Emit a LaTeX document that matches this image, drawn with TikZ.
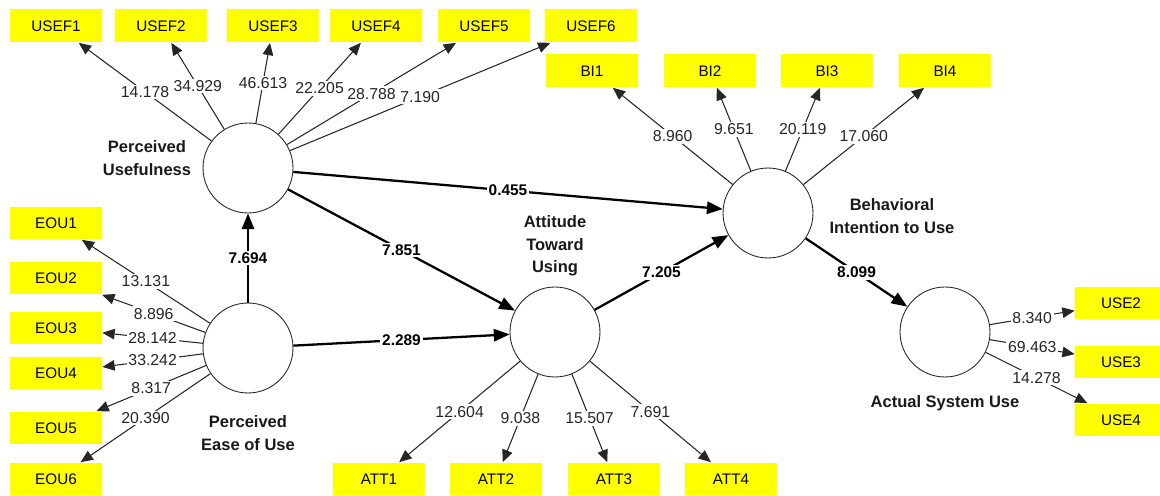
\documentclass[tikz,border=0pt]{standalone}
\usepackage{fontspec}
\setmainfont{Liberation Sans}
\usetikzlibrary{arrows.meta}
\definecolor{boxyellow}{HTML}{FFFF00}
\begin{document}
\begin{tikzpicture}[x=0.02cm,y=-0.02cm,
  ind/.style={fill=boxyellow, minimum width=1.84cm, minimum height=0.66cm, inner sep=0pt, font=\fontsize{8.7}{10}\selectfont},
  lat/.style={circle, draw=black!85, line width=0.5pt, minimum size=1.8cm, inner sep=0pt},
  latlbl/.style={font=\bfseries\fontsize{9.4}{12.8}\selectfont, align=center, text=black!90},
  outer/.style={-{Triangle[length=7pt,width=6pt]}, line width=0.6pt, draw=black!85},
  innerarr/.style={-{Triangle[length=9pt,width=7pt]}, line width=1.3pt, draw=black},
  ol/.style={fill=white, inner sep=1pt, font=\fontsize{9}{10}\selectfont, text=black!85},
  il/.style={fill=white, inner sep=1pt, font=\bfseries\fontsize{8.8}{10}\selectfont, text=black},
]
\useasboundingbox (0,0) rectangle (1160,496);

% latent variables
\node[lat] (pu) at (248,168) {};
\node[lat] (peou) at (248,348) {};
\node[lat] (att) at (555,332) {};
\node[lat] (bi) at (768,213) {};
\node[lat] (asu) at (945,332) {};

\node[latlbl] (pul) at (147,158) {Perceived\\Usefulness};
\node[latlbl] (peoul) at (248,433) {Perceived\\Ease of Use};
\node[latlbl] (attl) at (555,246) {Attitude\\Toward\\Using};
\node[latlbl] (bil) at (892,216) {Behavioral\\Intention to Use};
\node[latlbl] (asul) at (945,403) {Actual System Use};

% indicators
\node[ind] (usef1) at (56,26) {USEF1};
\node[ind] (usef2) at (161,26) {USEF2};
\node[ind] (usef3) at (273,26) {USEF3};
\node[ind] (usef4) at (376,26) {USEF4};
\node[ind] (usef5) at (484,26) {USEF5};
\node[ind] (usef6) at (591,26) {USEF6};

\node[ind] (bi1) at (592,71) {BI1};
\node[ind] (bi2) at (710,71) {BI2};
\node[ind] (bi3) at (827,71) {BI3};
\node[ind] (bi4) at (945,71) {BI4};

\node[ind] (eou1) at (56,223) {EOU1};
\node[ind] (eou2) at (56,278) {EOU2};
\node[ind] (eou3) at (56,328) {EOU3};
\node[ind] (eou4) at (56,373) {EOU4};
\node[ind] (eou5) at (56,428) {EOU5};
\node[ind] (eou6) at (56,479) {EOU6};

\node[ind] (att1) at (379,479) {ATT1};
\node[ind] (att2) at (496,479) {ATT2};
\node[ind] (att3) at (614,479) {ATT3};
\node[ind] (att4) at (731,479) {ATT4};

\node[ind] (use2) at (1121,303) {USE2};
\node[ind] (use3) at (1121,362) {USE3};
\node[ind] (use4) at (1121,420) {USE4};

% outer model
\draw[outer] (pu) -- node[ol]{14.178} (usef1);
\draw[outer] (pu) -- node[ol]{34.929} (usef2);
\draw[outer] (pu) -- node[ol]{46.613} (usef3);
\draw[outer] (pu) -- node[ol]{22.205} (usef4);
\draw[outer] (pu) -- node[ol]{28.788} (usef5);
\draw[outer] (pu) -- node[ol]{7.190} (usef6);

\draw[outer] (bi) -- node[ol]{8.960} (bi1);
\draw[outer] (bi) -- node[ol]{9.651} (bi2);
\draw[outer] (bi) -- node[ol]{20.119} (bi3);
\draw[outer] (bi) -- node[ol]{17.060} (bi4);

\draw[outer] (peou) -- node[ol]{13.131} (eou1);
\draw[outer] (peou) -- node[ol]{8.896} (eou2);
\draw[outer] (peou) -- node[ol]{28.142} (eou3);
\draw[outer] (peou) -- node[ol]{33.242} (eou4);
\draw[outer] (peou) -- node[ol]{8.317} (eou5);
\draw[outer] (peou) -- node[ol]{20.390} (eou6);

\draw[outer] (att) -- node[ol]{12.604} (att1);
\draw[outer] (att) -- node[ol]{9.038} (att2);
\draw[outer] (att) -- node[ol]{15.507} (att3);
\draw[outer] (att) -- node[ol]{7.691} (att4);

\draw[outer] (asu) -- node[ol]{8.340} (use2);
\draw[outer] (asu) -- node[ol]{69.463} (use3);
\draw[outer] (asu) -- node[ol]{14.278} (use4);

% inner model
\draw[innerarr] (peou) -- node[il]{7.694} (pu);
\draw[innerarr] (pu) -- node[il]{7.851} (att);
\draw[innerarr] (pu) -- node[il]{0.455} (bi);
\draw[innerarr] (peou) -- node[il]{2.289} (att);
\draw[innerarr] (att) -- node[il]{7.205} (bi);
\draw[innerarr] (bi) -- node[il]{8.099} (asu);
\end{tikzpicture}
\end{document}
